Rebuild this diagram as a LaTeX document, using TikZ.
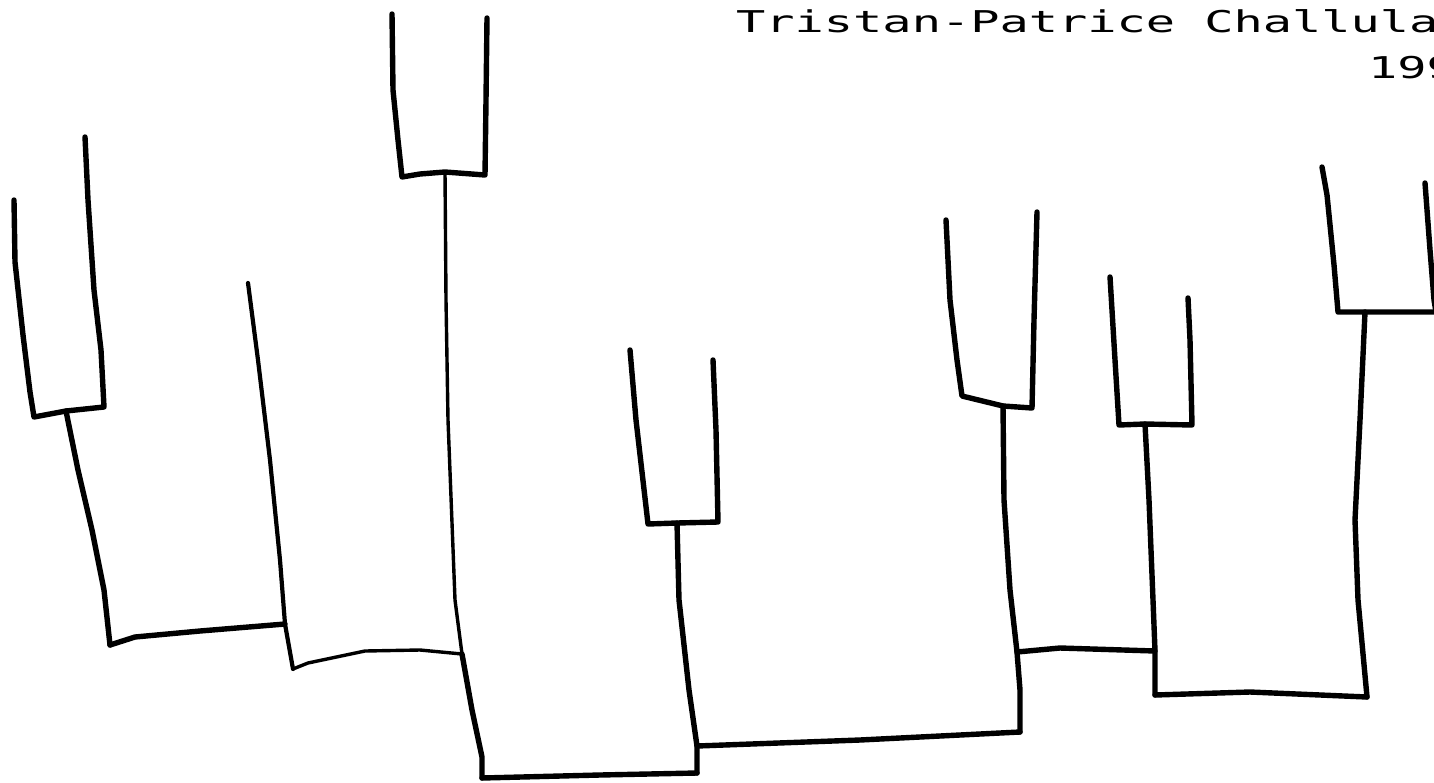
\documentclass[tikz,border=0pt]{standalone}
\usepackage{fontspec}
\usepackage{graphicx}
\newfontfamily\plotfont{DejaVu Sans Mono}
\tikzset{
  br/.style={line width=5.4pt, line cap=round, line join=round},
  mid/.style={line width=4.2pt, line cap=round, line join=round},
  thinbr/.style={line width=3.4pt, line cap=round, line join=round},
  label/.style={inner sep=0pt, anchor=base west, font=\plotfont\fontsize{30}{36}\selectfont}
}
\begin{document}
\begin{tikzpicture}[x=1pt,y=-1pt]
\useasboundingbox (0,0) rectangle (1434,782);
\fill[white] (0,0) rectangle (1434,782);
\clip (0,0) rectangle (1434,782);

% title text
\node[label] (title) at (736,32) {\scalebox{1.62}[1]{Tristan-Patrice Challula}};
\node[label] (year) at (1368,78) {\scalebox{1.62}[1]{199}};

% leaf tips
\coordinate (A) at (14,200);
\coordinate (B) at (85,137);
\coordinate (C) at (248,283);
\coordinate (H1) at (392,14);
\coordinate (H2) at (487,18);
\coordinate (D1) at (630,350);
\coordinate (D2) at (713,360);
\coordinate (E1) at (946,220);
\coordinate (E2) at (1037,212);
\coordinate (F1) at (1110,277);
\coordinate (F2) at (1188,298);
\coordinate (G1) at (1322,167);
\coordinate (G2) at (1425,183);

% junctions
\coordinate (ABm) at (66,411);
\coordinate (ABj) at (110,645);
\coordinate (Cj) at (285,624);
\coordinate (Cb) at (293,669);
\coordinate (Hm) at (445,172);
\coordinate (Hj) at (462,654);
\coordinate (Rl) at (482,778);
\coordinate (Rr) at (697,773);
\coordinate (Dm) at (677,523);
\coordinate (DEl) at (697,746);
\coordinate (DEr) at (1020,732);
\coordinate (Em) at (1003,406);
\coordinate (EFl) at (1017,652);
\coordinate (EFr) at (1155,651);
\coordinate (Fm) at (1145,424);
\coordinate (FGl) at (1155,695);
\coordinate (FGr) at (1367,697);
\coordinate (Gm) at (1365,312);

% A-B bracket and stem
\draw[br] (A) -- (15,262) -- (23,335) -- (30,392) -- (34,417) -- (ABm) -- (104,407) -- (101,350) -- (94,290) -- (88,200) -- (B);
\draw[br] (ABm) -- (78,470) -- (92,530) -- (104,590) -- (ABj);
\draw[br] (ABj) -- (135,637) -- (200,631) -- (Cj);

% leaf C
\draw[mid] (C) -- (258,360) -- (270,460) -- (280,560) -- (Cj) -- (Cb);
\draw[thinbr] (Cb) -- (308,663) -- (365,651) -- (420,650) -- (Hj);

% top bracket H
\draw[br] (H1) -- (393,90) -- (398,140) -- (402,177) -- (420,174) -- (Hm) -- (485,175) -- (486,100) -- (H2);
\draw[thinbr] (Hm) -- (446,300) -- (448,420) -- (455,600) -- (Hj);
\draw[br] (Hj) -- (472,710) -- (482,757) -- (Rl);
\draw[br] (Rl) -- (600,775) -- (Rr);

% D bracket
\draw[br] (D1) -- (636,420) -- (648,524) -- (Dm) -- (718,522) -- (716,430) -- (D2);
\draw[br] (Dm) -- (679,600) -- (689,690) -- (DEl) -- (Rr);
\draw[br] (DEl) -- (860,740) -- (DEr);

% E bracket
\draw[br] (E1) -- (950,300) -- (957,360) -- (962,396) -- (Em) -- (1032,408) -- (1034,320) -- (E2);
\draw[br] (Em) -- (1004,500) -- (1010,590) -- (EFl) -- (1020,690) -- (DEr);
\draw[br] (EFl) -- (1060,648) -- (EFr);

% F bracket
\draw[br] (F1) -- (1115,360) -- (1119,425) -- (Fm) -- (1192,425) -- (1190,340) -- (F2);
\draw[br] (Fm) -- (1149,500) -- (1153,600) -- (EFr) -- (FGl);
\draw[br] (FGl) -- (1250,692) -- (FGr);

% G bracket
\draw[br] (G1) -- (1327,195) -- (1334,265) -- (1338,312) -- (Gm) -- (1440,312);
\draw[br] (G2) -- (1430,250) -- (1434,300) -- (1436,312);
\draw[br] (Gm) -- (1360,420) -- (1355,520) -- (1358,600) -- (FGr);
\end{tikzpicture}
\end{document}
